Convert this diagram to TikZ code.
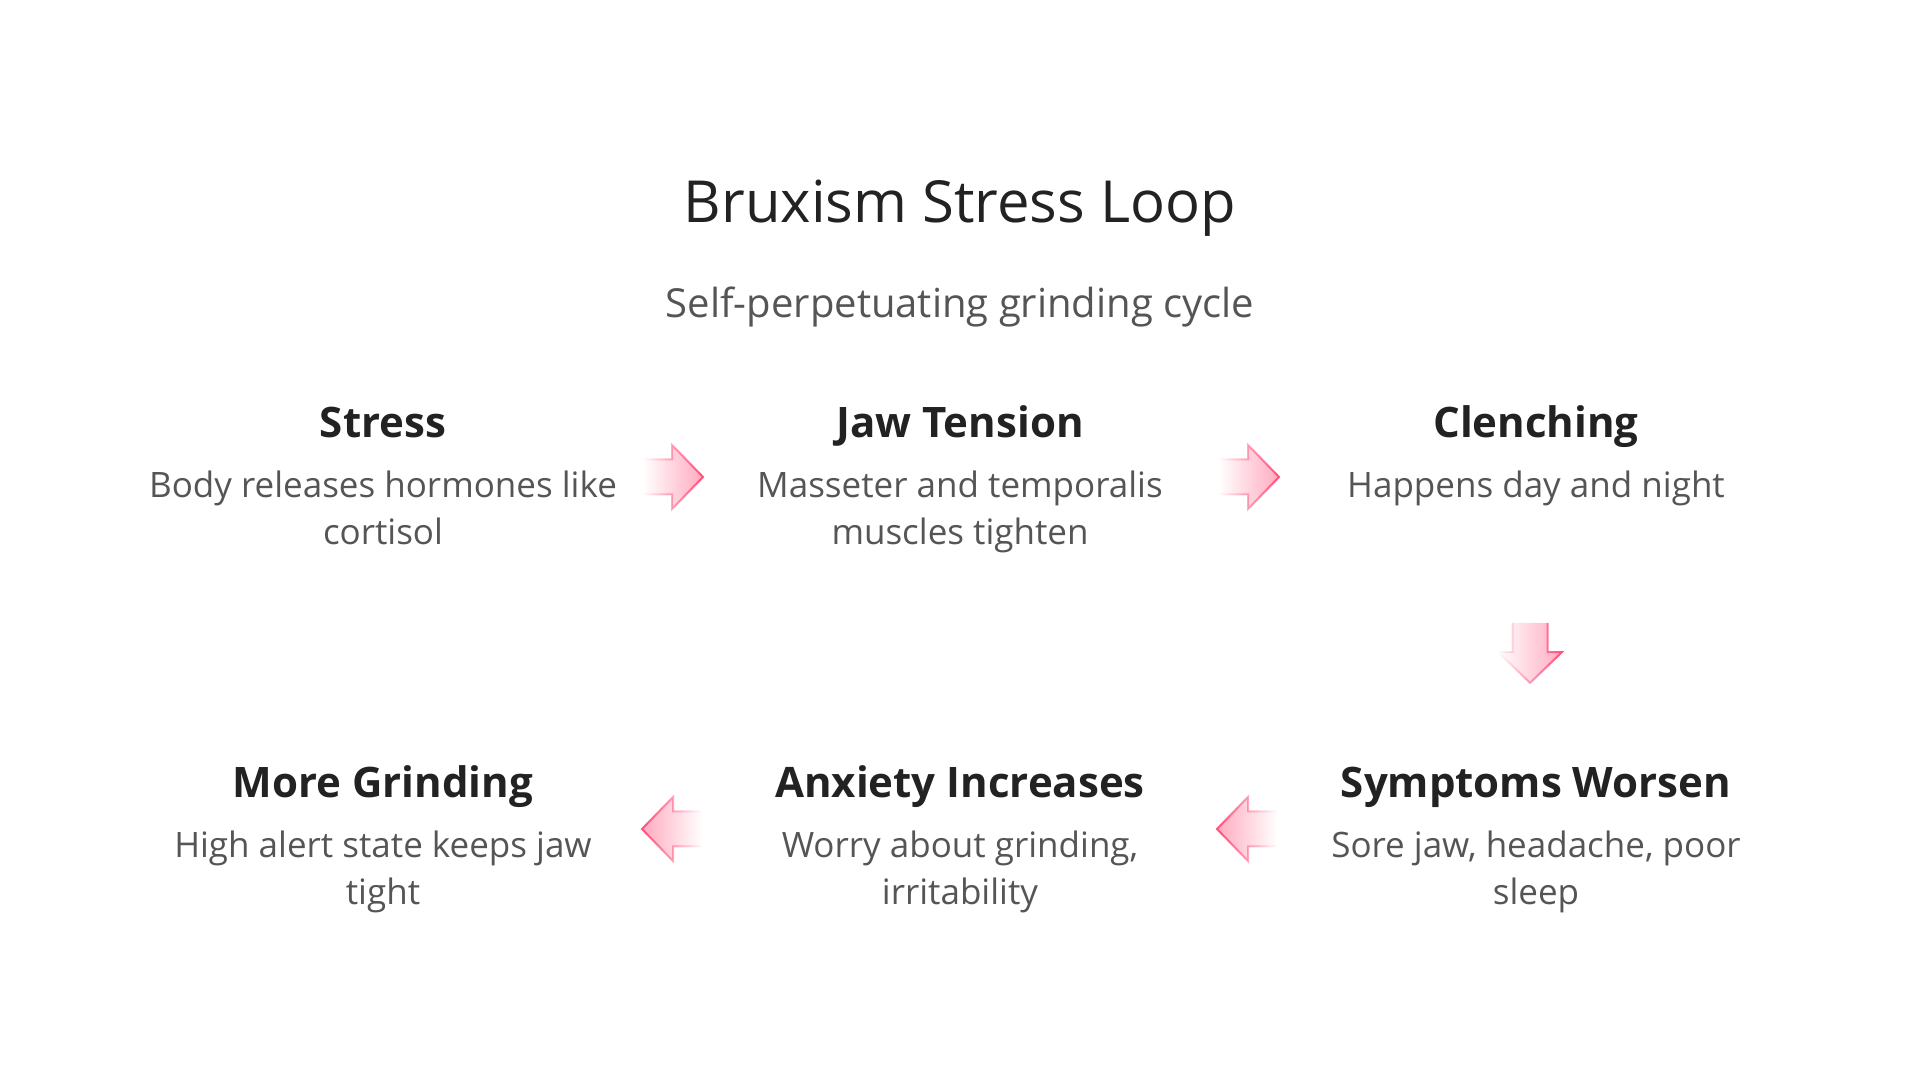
\documentclass[tikz,border=0pt]{standalone}
\usepackage{fontspec}
\setmainfont{Open Sans}
\usetikzlibrary{positioning,fadings}

\definecolor{inkdark}{HTML}{222222}
\definecolor{inkgrey}{HTML}{555555}
\definecolor{arrowpink}{HTML}{FF4F7B}
\definecolor{arrowfill}{HTML}{FFA9BF}

\tikzset{
    titletext/.style={font=\fontsize{58}{66}\selectfont, text=inkdark, inner sep=0pt, anchor=base},
    subtitletext/.style={font=\fontsize{40}{46}\selectfont, text=inkgrey, inner sep=0pt, anchor=base},
    stepname/.style={font=\fontsize{42}{50}\selectfont\bfseries, text=inkdark, inner sep=0pt, anchor=base},
    stepnote/.style={font=\fontsize{35}{47}\selectfont, text=inkgrey, align=center, inner sep=0pt, anchor=base},
    flowarrow/.pic={
        \fill[arrowfill, path fading=#1]
            (-30,-17.5) -- (-1,-17.5) -- (-1,-32) -- (30,0) -- (-1,32) -- (-1,17.5) -- (-30,17.5) -- cycle;
        \draw[arrowpink, line width=2pt, path fading=#1]
            (-30,-17.5) -- (-1,-17.5) -- (-1,-32) -- (30,0) -- (-1,32) -- (-1,17.5) -- (-30,17.5);
    }
}

\begin{document}
\begin{tikzpicture}[x=1pt,y=-1pt]
\useasboundingbox (0,0) rectangle (1920,1080);

\node[titletext] (title) at (960,222) {Bruxism Stress Loop};
\node[subtitletext] (subtitle) at (960,317) {Self-perpetuating grinding cycle};

% top row (a note sits on the baseline of its last line)
\node[stepname] (stress) at (383,437) {Stress};
\node[stepnote] (stressnote) at (383,544) {Body releases hormones like\\cortisol};
\node[stepname] (jaw) at (960,437) {Jaw Tension};
\node[stepnote] (jawnote) at (960,544) {Masseter and temporalis\\muscles tighten};
\node[stepname] (clench) at (1536,437) {Clenching};
\node[stepnote] (clenchnote) at (1536,497) {Happens day and night};

% bottom row
\node[stepname] (more) at (383,797) {More Grinding};
\node[stepnote] (morenote) at (383,904) {High alert state keeps jaw\\tight};
\node[stepname] (anxiety) at (960,797) {Anxiety Increases};
\node[stepnote] (anxietynote) at (960,904) {Worry about grinding,\\irritability};
\node[stepname] (symptoms) at (1536,797) {Symptoms Worsen};
\node[stepnote] (symptomsnote) at (1536,904) {Sore jaw, headache, poor\\sleep};

% arrows between steps
\coordinate (a1) at (673,477);
\coordinate (a2) at (1249,477);
\coordinate (a3) at (1530,653);
\coordinate (a4) at (1247,829);
\coordinate (a5) at (672,829);

\pic at (a1) {flowarrow=west};
\pic at (a2) {flowarrow=west};
\pic[rotate=-90] at (a3) {flowarrow=west};
\pic[rotate=180] at (a4) {flowarrow=east};
\pic[rotate=180] at (a5) {flowarrow=east};

\end{tikzpicture}
\end{document}
